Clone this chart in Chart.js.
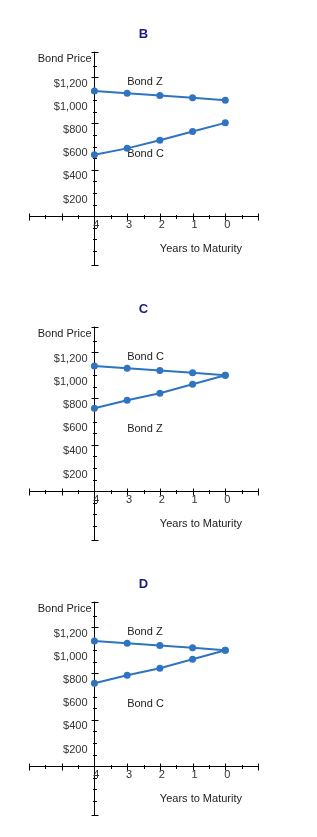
<!DOCTYPE html>
<html>
<head>
<meta charset="utf-8">
<script src="https://cdn.jsdelivr.net/npm/chart.js@4.4.1/dist/chart.umd.min.js"></script>
<style>
  html, body { margin: 0; padding: 0; background: #fff; }
  .panel { width: 317px; height: 275px; }
  canvas { display: block; }
</style>
</head>
<body>
<div class="panel"><canvas id="chartB" width="317" height="275"></canvas></div>
<div class="panel"><canvas id="chartC" width="317" height="275"></canvas></div>
<div class="panel"><canvas id="chartD" width="317" height="275"></canvas></div>
<script>
// values
const years = [4, 3, 2, 1, 0];
const premiumBond = [1080, 1060, 1042, 1022, 1000];
const lowBondB = [530, 585, 655, 730, 805];
const lowBondCD = [715, 785, 845, 922, 1000];

const panelIds = ['chartB', 'chartC', 'chartD'];
const panelTitles = ['B', 'C', 'D'];
const upperNames = ['Bond Z', 'Bond C', 'Bond Z'];
const lowerNames = ['Bond C', 'Bond Z', 'Bond C'];
const lowerSeries = [lowBondB, lowBondCD, lowBondCD];

const priceLabels = [200, 400, 600, 800, 1000, 1200];
const yearLabels = [4, 3, 2, 1, 0];

const FONT = '"Liberation Sans", Arial, sans-serif';
const LINE = '#2f74c0';

// axes cross at (4, 0), so lines, tick marks and labels are drawn here
const crossAxes = {
    id: 'crossAxes',
    beforeDatasetsDraw(chart, args, opts) {
        const { ctx, chartArea: a, scales: { x, y } } = chart;
        const ax = Math.round(x.getPixelForValue(4)) + 0.5;
        const ay = Math.round(y.getPixelForValue(0)) + 0.5;
        ctx.save();
        ctx.strokeStyle = '#000';
        ctx.lineWidth = 1;
        ctx.beginPath();
        ctx.moveTo(a.left, ay);
        ctx.lineTo(a.right, ay);
        ctx.moveTo(ax, a.top);
        ctx.lineTo(ax, a.bottom);
        // end caps of the vertical axis
        ctx.moveTo(ax - 3, Math.round(a.top) + 0.5);
        ctx.lineTo(ax + 4, Math.round(a.top) + 0.5);
        ctx.moveTo(ax - 3, Math.round(a.bottom) - 0.5);
        ctx.lineTo(ax + 4, Math.round(a.bottom) - 0.5);
        x.ticks.forEach(t => {
            const px = Math.round(x.getPixelForValue(t.value)) + 0.5;
            const len = Number.isInteger(t.value) ? 3 : 1.5;
            ctx.moveTo(px, ay - len);
            ctx.lineTo(px, ay + len + 1);
        });
        y.ticks.forEach(t => {
            if (t.value % 100 !== 0) return;
            const py = Math.round(y.getPixelForValue(t.value)) + 0.5;
            if (py < a.top + 4 || py > a.bottom - 4) return;
            const len = t.value % 400 === 0 ? 3 : 1.5;
            ctx.moveTo(ax - len, py);
            ctx.lineTo(ax + len + 1, py);
        });
        ctx.stroke();

        ctx.font = '11px ' + FONT;
        ctx.textBaseline = 'middle';
        ctx.fillStyle = '#333';
        ctx.textAlign = 'center';
        yearLabels.forEach(v => ctx.fillText(String(v), x.getPixelForValue(v) + 2, ay + 8));
        ctx.textAlign = 'right';
        priceLabels.forEach(v => {
            ctx.fillText('$' + v.toLocaleString('en-US'), ax - 7, y.getPixelForValue(v) + 6.5);
        });

        ctx.fillStyle = '#222';
        ctx.fillText('Bond Price', ax - 3, y.getPixelForValue(1355));
        ctx.textAlign = 'left';
        ctx.fillText(opts.upper, x.getPixelForValue(3), y.getPixelForValue(1160));
        ctx.fillText(opts.lower, x.getPixelForValue(3), y.getPixelForValue(535));
        ctx.fillText('Years to Maturity', x.getPixelForValue(2), y.getPixelForValue(-280));
        ctx.restore();
    }
};

// keep tick label overhang from shrinking the plot area
const noOverhang = s => {
    s.paddingTop = 0;
    s.paddingBottom = 0;
    s.paddingLeft = 0;
    s.paddingRight = 0;
};

function series(values) {
    return {
        data: years.map((yr, i) => ({ x: yr, y: values[i] })),
        showLine: true,
        borderColor: LINE,
        backgroundColor: LINE,
        borderWidth: 2,
        pointRadius: 3.5,
        pointBorderWidth: 0
    };
}

function renderPanel(i) {
    const el = document.getElementById(panelIds[i]);
    new Chart(el.getContext('2d'), {
        type: 'scatter',
        data: { datasets: [series(premiumBond), series(lowerSeries[i])] },
        plugins: [crossAxes],
        options: {
            responsive: false,
            animation: false,
            layout: { padding: { left: 29, right: 59, top: 0, bottom: 9 } },
            plugins: {
                legend: { display: false },
                tooltip: { enabled: false },
                title: {
                    display: true,
                    text: panelTitles[i],
                    color: '#1a1a86',
                    fullSize: false,
                    font: { family: FONT, size: 13, weight: 'bold' },
                    padding: { top: 27, bottom: 9 }
                },
                crossAxes: { upper: upperNames[i], lower: lowerNames[i] }
            },
            scales: {
                x: {
                    type: 'linear',
                    min: -1,
                    max: 6,
                    reverse: true,
                    position: { y: 0 },
                    afterBuildTicks: s => {
                        const t = [];
                        for (let v = -1; v <= 6; v += 0.5) t.push({ value: v });
                        s.ticks = t;
                    },
                    afterFit: noOverhang,
                    grid: { display: false, drawTicks: false },
                    border: { display: false },
                    ticks: { display: false }
                },
                y: {
                    type: 'linear',
                    min: -430,
                    max: 1420,
                    position: { x: 4 },
                    afterBuildTicks: s => {
                        const t = [];
                        for (let v = -400; v <= 1400; v += 100) t.push({ value: v });
                        s.ticks = t;
                    },
                    afterFit: noOverhang,
                    grid: { display: false, drawTicks: false },
                    border: { display: false },
                    ticks: { display: false }
                }
            }
        }
    });
}

panelIds.forEach((id, i) => renderPanel(i));
</script>
</body>
</html>
